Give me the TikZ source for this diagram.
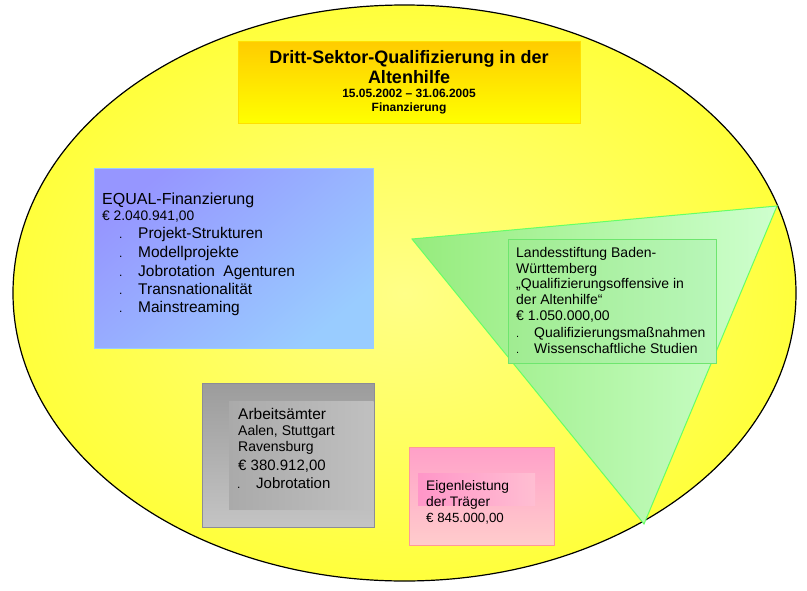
\documentclass[tikz,border=0pt]{standalone}
\usepackage{fontspec}
\setmainfont{Liberation Sans}
\definecolor{yelpale}{RGB}{255,255,135}
\definecolor{yel}{RGB}{255,255,0}
\definecolor{titletop}{RGB}{255,204,0}
\definecolor{blueA}{RGB}{150,150,255}
\definecolor{blueB}{RGB}{153,204,255}
\definecolor{blueedge}{RGB}{153,204,255}
\definecolor{grayA}{RGB}{156,156,156}
\definecolor{grayB}{RGB}{196,196,196}
\definecolor{grayC}{RGB}{170,170,170}
\definecolor{grayD}{RGB}{192,192,192}
\definecolor{grayedge}{RGB}{140,140,150}
\definecolor{pinkA}{RGB}{255,160,200}
\definecolor{pinkB}{RGB}{255,204,204}
\definecolor{pinkC}{RGB}{255,150,200}
\definecolor{pinkD}{RGB}{255,190,210}
\definecolor{pinkedge}{RGB}{255,153,153}
\definecolor{triA}{RGB}{150,236,125}
\definecolor{triB}{RGB}{206,255,206}
\definecolor{triedge}{RGB}{102,255,102}
\definecolor{grnA}{RGB}{160,236,145}
\definecolor{grnB}{RGB}{184,246,184}
\definecolor{grnedge}{RGB}{110,230,110}
\pgfdeclareradialshading{ellshade}{\pgfpoint{0bp}{0bp}}{color(0bp)=(yelpale); color(45bp)=(yel); color(100bp)=(yel)}
\begin{document}
\begin{tikzpicture}[x=1pt,y=-1pt,
  txt/.style={anchor=base west,inner sep=0pt,text=black},
  ctxt/.style={anchor=base,inner sep=0pt,text=black},
  fs/.style={font=\fontsize{#1}{#1}\selectfont},
  fsb/.style={font=\fontsize{#1}{#1}\selectfont\bfseries},
  boxline/.style={line width=0.8pt},
]
\useasboundingbox (0,0) rectangle (807,590);
\fill[white] (0,0) rectangle (807,590);
% big ellipse
\path[draw=black,line width=1.2pt,shading=ellshade] (404.5,293) ellipse [x radius=391.5,y radius=288];
% title box
\path[boxline,draw=titletop!60!yellow,top color=titletop,bottom color=yel] (238,41) rectangle (580,123);
\node[ctxt,fsb=18] (t1) at (409,63) {Dritt-Sektor-Qualifizierung in der};
\node[ctxt,fsb=18] (t2) at (409,83) {Altenhilfe};
\node[ctxt,fsb=12] (t3) at (409,97) {15.05.2002 – 31.06.2005};
\node[ctxt,fsb=12] (t4) at (409,111) {Finanzierung};
% blue box
\path[boxline,draw=blueedge,top color=blueA,bottom color=blueB,shading angle=40] (94,168) rectangle (373,348);
\node[txt,fs=16] (b1) at (102,204) {EQUAL-Finanzierung};
\node[txt,fs=13.8] (b2) at (102,220) {€ 2.040.941,00};
\node[txt,fs=12] (b3d) at (119,238) {.};
\node[txt,fs=15.5] (b3) at (138,238) {Projekt-Strukturen};
\node[txt,fs=12] (b4d) at (119,257) {.};
\node[txt,fs=15.5] (b4) at (138,257) {Modellprojekte};
\node[txt,fs=12] (b5d) at (119,276) {.};
\node[txt,fs=15.5] (b5) at (138,276) {Jobrotation\ \ Agenturen};
\node[txt,fs=12] (b6d) at (119,294) {.};
\node[txt,fs=15.5] (b6) at (138,294) {Transnationalität};
\node[txt,fs=12] (b7d) at (119,312) {.};
\node[txt,fs=15.5] (b7) at (138,312) {Mainstreaming};
% gray box
\path[boxline,draw=grayedge,top color=grayA,bottom color=grayB] (202,383) rectangle (374,527);
\path[left color=grayC,right color=grayD] (229,401) rectangle (373.6,509);
\node[txt,fs=15.5] (g1) at (238,419) {Arbeitsämter};
\node[txt,fs=14] (g2) at (238,435) {Aalen, Stuttgart};
\node[txt,fs=14] (g3) at (238,451) {Ravensburg};
\node[txt,fs=15] (g4) at (238,470) {€ 380.912,00};
\node[txt,fs=12] (g5d) at (237,488) {.};
\node[txt,fs=15] (g5) at (256,488) {Jobrotation};
% pink box
\path[boxline,draw=pinkedge,top color=pinkA,bottom color=pinkB] (409,447) rectangle (554,545);
\path[left color=pinkC,right color=pinkD] (418,473) rectangle (535,505);
\node[txt,fs=13.8] (p1) at (426,490) {Eigenleistung};
\node[txt,fs=13.8] (p2) at (426,506) {der Träger};
\node[txt,fs=13.3] (p3) at (426,522) {€ 845.000,00};
% triangle
\path[line width=1pt,draw=triedge,left color=triA,right color=triB] (412,239) -- (777,206) -- (644,524) -- cycle;
% green box
\path[boxline,draw=grnedge,left color=grnA,right color=grnB] (508,239) rectangle (716,363);
\node[txt,fs=14] (l1) at (516,257) {Landesstiftung Baden-};
\node[txt,fs=14] (l2) at (516,273) {Württemberg};
\node[txt,fs=14] (l3) at (516,288) {„Qualifizierungsoffensive in};
\node[txt,fs=14] (l4) at (516,304) {der Altenhilfe“};
\node[txt,fs=14] (l5) at (516,320) {€ 1.050.000,00};
\node[txt,fs=11] (l6d) at (516,337) {.};
\node[txt,fs=14] (l6) at (534,337) {Qualifizierungsmaßnahmen};
\node[txt,fs=11] (l7d) at (516,353) {.};
\node[txt,fs=14] (l7) at (534,353) {Wissenschaftliche Studien};
\end{tikzpicture}
\end{document}
